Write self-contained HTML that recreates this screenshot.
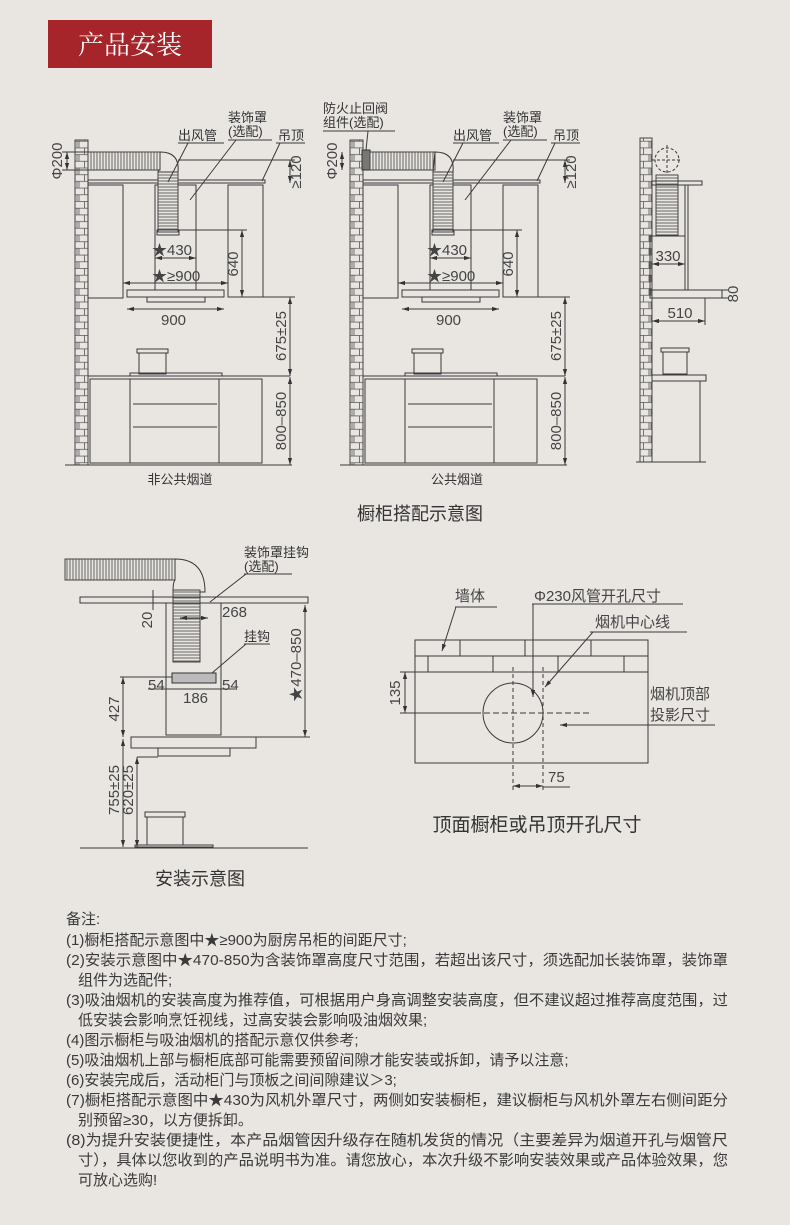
<!DOCTYPE html>
<html><head><meta charset="utf-8"><style>
html,body{margin:0;padding:0;background:#e9e6e2;}
svg{display:block;font-family:"Liberation Sans","Noto Sans CJK SC",sans-serif;}
.l{stroke:#3a3a3a;stroke-width:1;fill:none}
.t{fill:#333;font-size:13px}
.n{fill:#444;font-size:15px}
.note{fill:#3a3a3a;font-size:15px}
</style></head><body>
<svg width="790" height="1225" viewBox="0 0 790 1225" xmlns="http://www.w3.org/2000/svg">
<defs>
<marker id="a" viewBox="0 0 10 10" refX="10" refY="5" markerWidth="7" markerHeight="7" orient="auto-start-reverse"><path d="M0,2 L10,5 L0,8 z" fill="#333"/></marker>
<pattern id="brick" width="13" height="13.4" patternUnits="userSpaceOnUse"><rect width="13" height="13.4" fill="#e9e6e2"/><path d="M0,0.5H13M0,7.2H13M6.5,0.5V7.2M1,7.2V13.4M12,7.2V13.4" stroke="#555" stroke-width="0.8"/></pattern>
<pattern id="ribH" width="3" height="10" patternUnits="userSpaceOnUse"><rect width="3" height="10" fill="#e9e6e2"/><path d="M1,0V10" stroke="#444" stroke-width="0.8"/></pattern>
<pattern id="ribV" width="10" height="3" patternUnits="userSpaceOnUse"><rect width="10" height="3" fill="#e9e6e2"/><path d="M0,1H10" stroke="#444" stroke-width="0.8"/></pattern>
<g id="kit">
<rect x="75" y="140" width="13" height="325" fill="url(#brick)" stroke="#444"/>
<rect x="88" y="180" width="177" height="3" class="l"/>
<rect x="88" y="185" width="35" height="113" class="l"/>
<rect x="228" y="185" width="35" height="112" class="l"/>
<rect x="155" y="185" width="41" height="105" class="l"/>
<rect x="158" y="172" width="20" height="60" fill="url(#ribV)" stroke="#444"/>
<rect x="157" y="230" width="22" height="5" class="l"/>
<rect x="127" y="290" width="97" height="7" class="l"/>
<rect x="147" y="297" width="58" height="5" class="l"/>
<line x1="155" y1="258" x2="196" y2="258" class="l" marker-start="url(#a)" marker-end="url(#a)"/>
<text x="152" y="255" class="n">★430</text>
<line x1="123" y1="283" x2="228" y2="283" class="l" marker-start="url(#a)" marker-end="url(#a)"/>
<text x="152" y="281" class="n">★≥900</text>
<line x1="127" y1="309" x2="224" y2="309" class="l" marker-start="url(#a)" marker-end="url(#a)"/>
<text x="161" y="325" class="n">900</text>
<line x1="178" y1="230" x2="247" y2="230" class="l"/>
<line x1="242" y1="230" x2="242" y2="297" class="l" marker-start="url(#a)" marker-end="url(#a)"/>
<text transform="translate(238,264) rotate(-90)" text-anchor="middle" class="n">640</text>
<line x1="263" y1="297" x2="295" y2="297" class="l"/>
<line x1="290" y1="297" x2="290" y2="376" class="l" marker-start="url(#a)" marker-end="url(#a)"/>
<text transform="translate(286,336) rotate(-90)" text-anchor="middle" class="n">675±25</text>
<line x1="290" y1="377" x2="290" y2="465" class="l" marker-start="url(#a)" marker-end="url(#a)"/>
<text transform="translate(286,421) rotate(-90)" text-anchor="middle" class="n">800–850</text>
<rect x="137" y="349" width="31" height="4" class="l"/>
<rect x="139" y="353" width="27" height="21" class="l"/>
<rect x="130" y="373" width="92" height="3" class="l"/>
<line x1="88" y1="376" x2="290" y2="376" class="l"/>
<rect x="90" y="379" width="172" height="84" class="l"/>
<line x1="130" y1="379" x2="130" y2="463" class="l"/><line x1="219" y1="379" x2="219" y2="463" class="l"/>
<line x1="133" y1="404" x2="217" y2="404" class="l"/><line x1="133" y1="427" x2="217" y2="427" class="l"/>
<line x1="65" y1="465" x2="292" y2="465" class="l"/>
<line x1="178" y1="160" x2="295" y2="160" class="l"/>
<line x1="290" y1="160" x2="290" y2="183" class="l" marker-start="url(#a)" marker-end="url(#a)"/>
<text transform="translate(301,172) rotate(-90)" text-anchor="middle" class="n">≥120</text>
<text x="178" y="140" class="t">出风管</text><path d="M178,143H224M188,143L168,182" class="l"/>
<text x="228" y="122" class="t">装饰罩</text><text x="228" y="136" class="t">(选配)</text><path d="M228,140H272M236,140L190,200" class="l"/>
<text x="278" y="140" class="t">吊顶</text><path d="M276,143H305M280,143L262,181" class="l"/>
</g>
</defs>
<rect width="790" height="1225" fill="#e9e6e2"/>
<rect x="48" y="20" width="164" height="48" fill="#a5252b"/>
<text x="130" y="54" text-anchor="middle" fill="#fff" font-size="26" font-family="'Noto Serif CJK SC',serif">产品安装</text>

<use href="#kit"/>
<rect x="88" y="152" width="72" height="18" fill="url(#ribH)" stroke="#444"/>
<path d="M160,152 Q180,152 178,172 L158,172 Q158,170 160,170 z" class="l"/>
<line x1="67" y1="152" x2="67" y2="170" class="l" marker-start="url(#a)" marker-end="url(#a)"/>
<line x1="62" y1="152" x2="88" y2="152" class="l"/><line x1="62" y1="170" x2="88" y2="170" class="l"/>
<text transform="translate(62,161) rotate(-90)" text-anchor="middle" class="n">Φ200</text>
<text x="180" y="484" text-anchor="middle" class="t">非公共烟道</text>

<g transform="translate(275,0)"><use href="#kit"/></g>
<rect x="362" y="150" width="8" height="20" fill="#777" stroke="#333"/>
<rect x="370" y="152" width="65" height="18" fill="url(#ribH)" stroke="#444"/>
<path d="M435,152 Q455,152 453,172 L433,172 z" class="l"/>
<line x1="342" y1="152" x2="342" y2="170" class="l" marker-start="url(#a)" marker-end="url(#a)"/>
<text transform="translate(337,161) rotate(-90)" text-anchor="middle" class="n">Φ200</text>
<text x="323" y="113" class="t">防火止回阀</text><text x="323" y="127" class="t">组件(选配)</text><path d="M323,131H395M368,131L366,150" class="l"/>
<text x="457" y="484" text-anchor="middle" class="t">公共烟道</text>

<rect x="640" y="138" width="12" height="324" fill="url(#brick)" stroke="#444"/>
<circle cx="667" cy="160" r="12" class="l" stroke-dasharray="3,2"/>
<path d="M667,145V175M652,160H682" class="l" stroke-dasharray="3,2"/>
<rect x="656" y="175" width="22" height="60" fill="url(#ribV)" stroke="#444"/>
<rect x="652" y="181" width="50" height="4" class="l"/>
<rect x="650" y="236" width="35" height="54" class="l"/>
<path d="M685,185V290M688,185V290" class="l"/>
<rect x="650" y="290" width="72" height="8" class="l"/>
<line x1="652" y1="264" x2="685" y2="264" class="l" marker-start="url(#a)" marker-end="url(#a)"/>
<text x="668" y="261" text-anchor="middle" class="n">330</text>
<line x1="652" y1="321" x2="705" y2="321" class="l" marker-start="url(#a)" marker-end="url(#a)"/>
<text x="680" y="318" text-anchor="middle" class="n">510</text>
<path d="M705,298V325M722,290H728M722,298H728" class="l"/>
<text transform="translate(738,294) rotate(-90)" text-anchor="middle" class="n">80</text>
<rect x="661" y="348" width="28" height="4" class="l"/><rect x="663" y="352" width="24" height="22" class="l"/>
<rect x="652" y="375" width="54" height="6" class="l"/>
<path d="M700,381V462M636,462H706" class="l"/>

<text x="420" y="520" text-anchor="middle" fill="#333" font-size="18">橱柜搭配示意图</text>

<rect x="65" y="559" width="110" height="21" fill="url(#ribH)" stroke="#444"/>
<path d="M175,559 Q205,559 205,592 L173,592 Q173,582 175,580 z" class="l"/>
<rect x="173" y="590" width="27" height="72" fill="url(#ribV)" stroke="#444"/>
<rect x="80" y="597" width="228" height="6" class="l"/>
<rect x="166" y="603" width="55" height="132" class="l"/>
<rect x="172" y="673" width="44" height="10" fill="#bbb" stroke="#333"/>
<rect x="131" y="737" width="125" height="11" class="l"/>
<rect x="158" y="748" width="72" height="8" class="l"/>
<line x1="153" y1="590" x2="153" y2="610" class="l"/>
<text transform="translate(152,620) rotate(-90)" text-anchor="middle" class="n">20</text>
<line x1="180" y1="618" x2="208" y2="618" class="l" marker-start="url(#a)" marker-end="url(#a)"/>
<text x="222" y="617" class="n">268</text>
<text x="244" y="557" class="t">装饰罩挂钩</text><text x="244" y="571" class="t">(选配)</text><path d="M244,574H292M246,574L210,602" class="l"/>
<text x="244" y="641" class="t">挂钩</text><path d="M244,644H270M246,644L212,673" class="l"/>
<line x1="305" y1="605" x2="305" y2="737" class="l" marker-start="url(#a)" marker-end="url(#a)"/>
<line x1="256" y1="737" x2="310" y2="737" class="l"/>
<text transform="translate(301,665) rotate(-90)" text-anchor="middle" class="n">★470–850</text>
<line x1="148" y1="689" x2="235" y2="689" class="l"/>
<text x="148" y="690" class="n">54</text><text x="222" y="690" class="n">54</text><text x="183" y="703" class="n">186</text>
<line x1="120" y1="677" x2="172" y2="677" class="l"/>
<line x1="123" y1="677" x2="123" y2="737" class="l" marker-start="url(#a)" marker-end="url(#a)"/>
<text transform="translate(119,709) rotate(-90)" text-anchor="middle" class="n">427</text>
<line x1="123" y1="739" x2="123" y2="847" class="l" marker-start="url(#a)" marker-end="url(#a)"/>
<text transform="translate(119,790) rotate(-90)" text-anchor="middle" class="n">755±25</text>
<line x1="137" y1="757" x2="137" y2="847" class="l" marker-start="url(#a)" marker-end="url(#a)"/>
<line x1="137" y1="757" x2="158" y2="757" class="l"/>
<text transform="translate(133,790) rotate(-90)" text-anchor="middle" class="n">620±25</text>
<rect x="145" y="812" width="40" height="5" class="l"/><rect x="147" y="817" width="36" height="28" class="l"/>
<rect x="135" y="845" width="78" height="2" class="l"/>
<line x1="80" y1="848" x2="308" y2="848" class="l"/>
<text x="200" y="885" text-anchor="middle" fill="#333" font-size="18">安装示意图</text>

<rect x="415" y="640" width="233" height="123" class="l"/>
<path d="M415,656H648M415,672H648M460,640V656M525,640V656M591,640V656M428,656V672M493,656V672M558,656V672M624,656V672" class="l"/>
<circle cx="513" cy="713" r="30" class="l"/>
<path d="M513,667V790M543,667V790" class="l" stroke-dasharray="4,3"/>
<path d="M475,713H590" class="l" stroke-dasharray="6,3"/>
<path d="M400,672H415M400,713H480" class="l"/>
<line x1="405" y1="672" x2="405" y2="713" class="l" marker-start="url(#a)" marker-end="url(#a)"/>
<text transform="translate(400,693) rotate(-90)" text-anchor="middle" class="n">135</text>
<line x1="513" y1="786" x2="543" y2="786" class="l" marker-start="url(#a)" marker-end="url(#a)"/>
<text x="548" y="782" class="n">75</text><path d="M543,787H570" class="l"/>
<text x="455" y="601" class="n">墙体</text><path d="M455,607H497" class="l"/><line x1="456" y1="607" x2="442" y2="651" class="l" marker-end="url(#a)"/>
<text x="534" y="601" class="n">Φ230风管开孔尺寸</text><path d="M532,604H683" class="l"/><line x1="533" y1="604" x2="533" y2="697" class="l" marker-end="url(#a)"/>
<text x="595" y="627" class="n">烟机中心线</text><path d="M590,632H687" class="l"/><line x1="593" y1="632" x2="545" y2="687" class="l" marker-end="url(#a)"/>
<text x="650" y="699" class="n">烟机顶部</text><text x="650" y="720" class="n">投影尺寸</text><path d="M640,725H715" class="l"/><line x1="640" y1="725" x2="560" y2="725" class="l" marker-end="url(#a)"/>
<text x="537" y="831" text-anchor="middle" fill="#333" font-size="19">顶面橱柜或吊顶开孔尺寸</text>

<g class="note">
<text x="66" y="924">备注:</text>
<text x="66" y="945">(1)橱柜搭配示意图中★≥900为厨房吊柜的间距尺寸;</text>
<text x="66" y="965" textLength="662" lengthAdjust="spacingAndGlyphs">(2)安装示意图中★470-850为含装饰罩高度尺寸范围，若超出该尺寸，须选配加长装饰罩，装饰罩</text>
<text x="78" y="985">组件为选配件;</text>
<text x="66" y="1005" textLength="662" lengthAdjust="spacingAndGlyphs">(3)吸油烟机的安装高度为推荐值，可根据用户身高调整安装高度，但不建议超过推荐高度范围，过</text>
<text x="78" y="1025">低安装会影响烹饪视线，过高安装会影响吸油烟效果;</text>
<text x="66" y="1045">(4)图示橱柜与吸油烟机的搭配示意仅供参考;</text>
<text x="66" y="1065">(5)吸油烟机上部与橱柜底部可能需要预留间隙才能安装或拆卸，请予以注意;</text>
<text x="66" y="1085">(6)安装完成后，活动柜门与顶板之间间隙建议＞3;</text>
<text x="66" y="1105" textLength="662" lengthAdjust="spacingAndGlyphs">(7)橱柜搭配示意图中★430为风机外罩尺寸，两侧如安装橱柜，建议橱柜与风机外罩左右侧间距分</text>
<text x="78" y="1125">别预留≥30，以方便拆卸。</text>
<text x="66" y="1145" textLength="662" lengthAdjust="spacingAndGlyphs">(8)为提升安装便捷性，本产品烟管因升级存在随机发货的情况（主要差异为烟道开孔与烟管尺</text>
<text x="78" y="1165" textLength="650" lengthAdjust="spacingAndGlyphs">寸），具体以您收到的产品说明书为准。请您放心，本次升级不影响安装效果或产品体验效果，您</text>
<text x="78" y="1185">可放心选购!</text>
</g>
</svg>
</body></html>
